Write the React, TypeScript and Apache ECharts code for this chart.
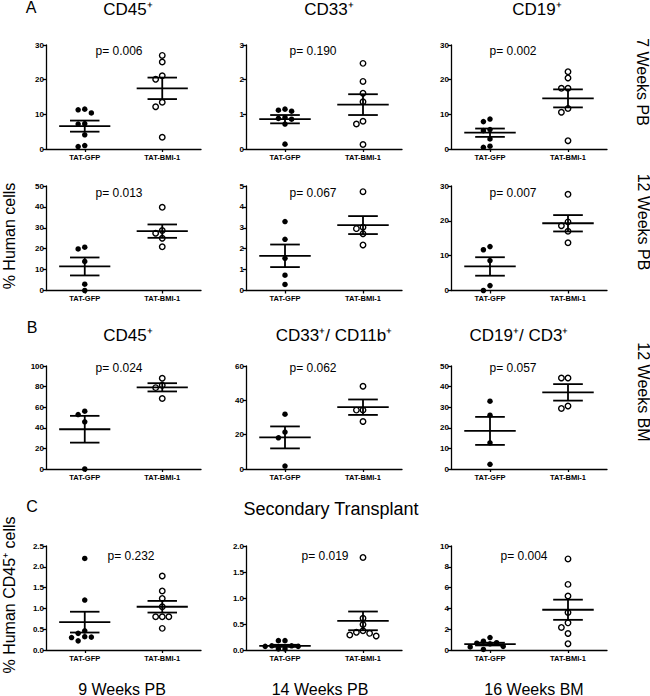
import React, { useEffect, useRef } from "react";
import * as echarts from "echarts";

const FONT = "Liberation Sans, Arial, sans-serif";
const groups = ["TAT-GFP", "TAT-BMI-1"];

// Panel A — 7 weeks PB
const a45Gfp = [11.3, 10.4, 11.5, 7.3, 7.2, 4.1, 0.7, 1.0];
const a45Bmi = [27.0, 25.1, 21.1, 20.1, 13.5, 12.2, 3.4];
const a45Mean = [6.6, 17.5];
const a45Sem = [1.6, 3.1];
const a33Gfp = [1.12, 1.15, 1.09, 0.86, 0.91, 0.88, 0.72, 0.14];
const a33Bmi = [2.47, 1.95, 1.61, 1.36, 0.8, 0.72, 0.13];
const a33Mean = [0.86, 1.28];
const a33Sem = [0.12, 0.3];
const a19Gfp = [8.65, 7.9, 5.6, 5.3, 2.9, 0.5, 0.8];
const a19Bmi = [22.3, 20.5, 17.5, 17.5, 11.7, 10.6, 2.4];
const a19Mean = [4.7, 14.6];
const a19Sem = [1.2, 2.6];
// Panel A — 12 weeks PB
const b45Gfp = [19.9, 20.7, 13.9, 3.0, 0];
const b45Bmi = [39.8, 28.7, 27.4, 25.0, 20.9];
const b45Mean = [11.5, 28.4];
const b45Sem = [4.3, 3.2];
const b33Gfp = [3.3, 2.45, 1.54, 0.73, 0.29];
const b33Bmi = [4.73, 3.03, 2.96, 2.72, 2.18];
const b33Mean = [1.66, 3.13];
const b33Sem = [0.54, 0.43];
const b19Gfp = [11.7, 12.6, 8.6, 1.4, 0];
const b19Bmi = [27.6, 19.7, 18.6, 17.0, 13.7];
const b19Mean = [6.9, 19.3];
const b19Sem = [2.65, 2.35];
// Panel B — 12 weeks BM
const c45Gfp = [52.9, 56.1, 45.8, 0];
const c45Bmi = [88.1, 81.3, 79.0, 68.4];
const c45Mean = [38.6, 79.3];
const c45Sem = [13.0, 4.0];
const c33Gfp = [31.9, 21.5, 18.2, 1.7];
const c33Bmi = [48.2, 34.3, 34.3, 27.7];
const c33Mean = [18.4, 36.0];
const c33Sem = [6.4, 4.5];
const c19Gfp = [32.9, 26.1, 12.7, 2.3];
const c19Bmi = [44.2, 44.2, 29.4, 30.6];
const c19Mean = [18.5, 37.2];
const c19Sem = [6.8, 4.0];
// Panel C — secondary transplant
const d9Gfp = [2.2, 1.2, 0.46, 0.4, 0.32, 0.3, 0.31, 0.22];
const d9Bmi = [1.78, 1.42, 1.24, 1.04, 0.8, 0.8, 0.8, 0.52];
const d9Mean = [0.67, 1.04];
const d9Sem = [0.25, 0.14];
const d14Gfp = [0.18, 0.18, 0.08, 0.07, 0.07, 0.08, 0.02, 0.02];
const d14Bmi = [1.78, 0.61, 0.49, 0.37, 0.32, 0.27, 0.29, 0.34];
const d14Mean = [0.08, 0.56];
const d14Sem = [0.02, 0.18];
const d16Gfp = [0.85, 1.2, 0.7, 0.65, 0.6, 0.3, 0.35, 0.05];
const d16Bmi = [8.76, 6.31, 5.19, 3.6, 2.61, 2.17, 1.59, 0.61];
const d16Mean = [0.57, 3.87];
const d16Sem = [0.13, 0.97];

const yMaxes = [30, 3, 30, 50, 5, 30, 100, 60, 50, 2.5, 2.0, 10];
const yIntervals = [10, 1, 10, 10, 1, 10, 20, 20, 10, 0.5, 0.5, 2];
const pValues = ["0.006", "0.190", "0.002", "0.013", "0.067", "0.007", "0.024", "0.062", "0.057", "0.232", "0.019", "0.004"];

const panels = [
  [a45Gfp, a45Bmi, a45Mean, a45Sem],
  [a33Gfp, a33Bmi, a33Mean, a33Sem],
  [a19Gfp, a19Bmi, a19Mean, a19Sem],
  [b45Gfp, b45Bmi, b45Mean, b45Sem],
  [b33Gfp, b33Bmi, b33Mean, b33Sem],
  [b19Gfp, b19Bmi, b19Mean, b19Sem],
  [c45Gfp, c45Bmi, c45Mean, c45Sem],
  [c33Gfp, c33Bmi, c33Mean, c33Sem],
  [c19Gfp, c19Bmi, c19Mean, c19Sem],
  [d9Gfp, d9Bmi, d9Mean, d9Sem],
  [d14Gfp, d14Bmi, d14Mean, d14Sem],
  [d16Gfp, d16Bmi, d16Mean, d16Sem],
];

// layout
const colLeft = [46, 246, 451];
const colWidth = [155, 156, 156];
const rowTop = [45, 186, 366, 546];
const rowHeight = [104, 104.5, 103, 104];
const pPos = [
  [119, 51], [313, 51], [513, 51],
  [119, 193], [313, 193], [513, 193],
  [119, 368], [313, 368], [513, 368],
  [131, 556], [325, 556], [524, 556],
];

// simple beeswarm: offsets (in x-axis units) so that dots do not overlap
function swarm(values: number[], pxPerY: number, pxPerX: number, dia: number) {
  const order = values.map((_, i) => i).sort((a, b) => values[b] - values[a]);
  const placed: { x: number; y: number }[] = [];
  const out: number[] = new Array(values.length).fill(0);
  const cands = [0, -1, 1, -2, 2, -3, 3];
  const step = dia * 1.2;
  for (const i of order) {
    const y = values[i] * pxPerY;
    for (const c of cands) {
      const x = c * step;
      const ok = placed.every((p) => Math.hypot(p.x - x, p.y - y) >= dia * 1.05);
      if (ok) {
        placed.push({ x, y });
        out[i] = x / pxPerX;
        break;
      }
    }
  }
  return out;
}

function buildOption() {
  const grid: any[] = [];
  const xAxis: any[] = [];
  const yAxis: any[] = [];
  const series: any[] = [];
  const graphic: any[] = [];
  const axisLineStyle = { color: "#000", width: 1.3 };
  const DOT = 5.5;

  panels.forEach((pn, i) => {
    const r = Math.floor(i / 3);
    const c = i % 3;
    const left = colLeft[c];
    const top = rowTop[r];
    const width = colWidth[c];
    const height = rowHeight[r];
    grid.push({ left, top, width, height });
    xAxis.push({
      gridIndex: i,
      type: "category",
      data: groups,
      boundaryGap: true,
      axisLine: { show: true, onZero: false, lineStyle: axisLineStyle },
      axisTick: { show: true, alignWithLabel: true, length: 3, lineStyle: axisLineStyle },
      axisLabel: { color: "#000", fontSize: 7.5, fontWeight: "bold", fontFamily: FONT, margin: 4, interval: 0 },
      splitLine: { show: false },
    });
    xAxis.push({ gridIndex: i, type: "value", min: -0.5, max: 1.5, show: false });
    const yMax = yMaxes[i];
    const dec = yIntervals[i] < 1 ? 1 : 0;
    yAxis.push({
      gridIndex: i,
      type: "value",
      min: 0,
      max: yMax,
      interval: yIntervals[i],
      axisLine: { show: true, onZero: false, lineStyle: axisLineStyle },
      axisTick: { show: true, length: 3, lineStyle: axisLineStyle },
      axisLabel: {
        color: "#000",
        fontSize: 8,
        fontWeight: "bold",
        fontFamily: FONT,
        margin: 2,
        formatter: (v: number) => v.toFixed(dec),
      },
      splitLine: { show: false },
    });
    const [gfp, bmi, mean, sem] = pn as number[][];
    const pxPerY = height / yMax;
    const pxPerX = width / 2;
    const offG = swarm(gfp, pxPerY, pxPerX, DOT);
    const offB = swarm(bmi, pxPerY, pxPerX, DOT);
    series.push({
      type: "scatter",
      xAxisIndex: 2 * i + 1,
      yAxisIndex: i,
      symbol: "circle",
      symbolSize: DOT,
      clip: false,
      silent: true,
      itemStyle: { color: "#000", opacity: 1 },
      data: gfp.map((v, k) => [0 + offG[k], v]),
      z: 2,
    });
    series.push({
      type: "scatter",
      xAxisIndex: 2 * i + 1,
      yAxisIndex: i,
      symbol: "circle",
      symbolSize: DOT,
      clip: false,
      silent: true,
      itemStyle: { color: "#fff", borderColor: "#000", borderWidth: 1.4, opacity: 1 },
      data: bmi.map((v, k) => [1 + offB[k], v]),
      z: 2,
    });
    series.push({
      type: "custom",
      xAxisIndex: 2 * i + 1,
      yAxisIndex: i,
      silent: true,
      clip: false,
      z: 5,
      data: mean.map((m, k) => [k, m, sem[k]]),
      renderItem: (_p: any, api: any) => {
        const x = api.value(0);
        const m = api.value(1);
        const s = api.value(2);
        const P = (xx: number, yy: number) => api.coord([xx, yy]);
        const st = { stroke: "#000", lineWidth: 1.8, fill: "none" };
        const seg = (p1: number[], p2: number[]) => ({
          type: "line",
          shape: { x1: p1[0], y1: p1[1], x2: p2[0], y2: p2[1] },
          style: st,
        });
        return {
          type: "group",
          children: [
            seg(P(x - 0.33, m), P(x + 0.33, m)),
            seg(P(x - 0.19, m + s), P(x + 0.19, m + s)),
            seg(P(x - 0.19, m - s), P(x + 0.19, m - s)),
            seg(P(x, m + s), P(x, m - s)),
          ],
        };
      },
    });
    graphic.push({
      type: "text",
      x: pPos[i][0],
      y: pPos[i][1],
      style: { text: "p= " + pValues[i], font: `12px ${FONT}`, fill: "#000", align: "center", verticalAlign: "middle" },
    });
  });

  const txt = (text: string, x: number, y: number, size: number, rotation = 0) => ({
    type: "text",
    x,
    y,
    rotation,
    style: { text, font: `${size}px ${FONT}`, fill: "#000", align: "center", verticalAlign: "middle" },
  });
  graphic.push(
    txt("A", 31, 7, 16),
    txt("CD45\u207A", 128, 9, 17),
    txt("CD33\u207A", 329, 9, 17),
    txt("CD19\u207A", 537, 9, 17),
    txt("7 Weeks PB", 642, 82, 16, -Math.PI / 2),
    txt("12 Weeks PB", 643, 222, 16, -Math.PI / 2),
    txt("% Human cells", 9, 236, 16, Math.PI / 2),
    txt("B", 32, 327, 16),
    txt("CD45\u207A", 128, 335, 17),
    txt("CD33\u207A/ CD11b\u207A", 334, 335, 17),
    txt("CD19\u207A/ CD3\u207A", 519, 335, 17),
    txt("12 Weeks BM", 643, 392, 16, -Math.PI / 2),
    txt("C", 32, 506, 16),
    txt("Secondary Transplant", 331, 509, 18),
    txt("% Human CD45\u207A cells", 9, 595, 16, Math.PI / 2),
    txt("9 Weeks PB", 122, 689, 16),
    txt("14 Weeks PB", 320, 689, 16),
    txt("16 Weeks BM", 534, 689, 16)
  );

  return {
    animation: false,
    backgroundColor: "#fff",
    textStyle: { fontFamily: FONT },
    grid,
    xAxis,
    yAxis,
    series,
    graphic,
  };
}

export default function App() {
  const ref = useRef<HTMLDivElement>(null);
  useEffect(() => {
    if (!ref.current) return;
    const chart = echarts.init(ref.current, undefined, { renderer: "svg" });
    chart.setOption(buildOption() as any);
    return () => chart.dispose();
  }, []);
  return (
    <div
      ref={ref}
      style={{ position: "absolute", left: 0, top: 0, width: 650, height: 696, background: "#fff" }}
    />
  );
}
